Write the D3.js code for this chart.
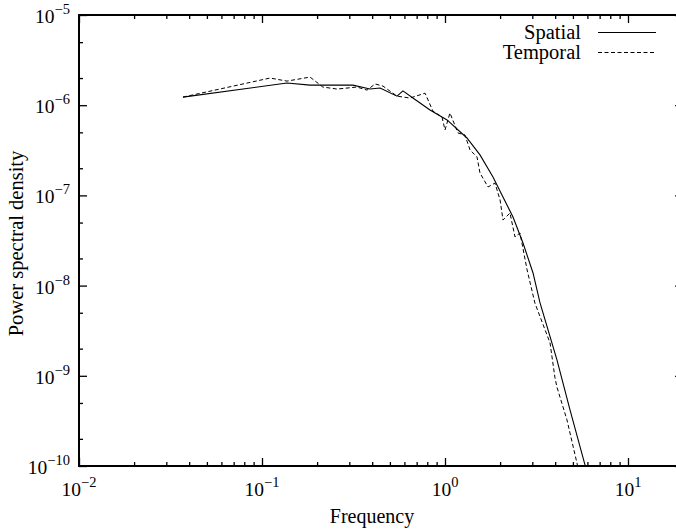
<!DOCTYPE html>
<html>
<head>
<meta charset="utf-8">
<script src="https://cdn.jsdelivr.net/npm/d3@7"></script>
<style>
  html, body { margin: 0; padding: 0; background: #fff; }
  svg { display: block; }
  text { font-family: "Liberation Serif", "Times New Roman", serif; fill: #000; }
</style>
</head>
<body>
<svg id="chart" width="676" height="530"></svg>
<script>
// ---- data ----
const spatialFreq = [0.037, 0.137, 0.183, 0.314, 0.389, 0.442, 0.547, 0.589, 0.668, 0.828, 1.026, 1.318, 1.553, 1.829, 2.074, 2.353, 2.668, 3.027, 3.306, 4.09, 4.82, 5.82, 6.04];
const spatialPSD  = [1.23e-6, 1.76e-6, 1.67e-6, 1.67e-6, 1.51e-6, 1.55e-6, 1.26e-6, 1.44e-6, 1.20e-6, 8.85e-7, 6.86e-7, 4.33e-7, 2.81e-7, 1.60e-7, 9.6e-8, 5.76e-8, 2.97e-8, 1.38e-8, 6.42e-9, 1.50e-9, 4.18e-10, 1.03e-10, 7.9e-11];

const temporalFreq = [0.037, 0.1106, 0.137, 0.183, 0.215, 0.257, 0.330, 0.375, 0.415, 0.458, 0.547, 0.644, 0.778, 0.859, 0.963, 1.0, 1.064, 1.178, 1.285, 1.37, 1.496, 1.553, 1.718, 1.876, 2.0, 2.075, 2.265, 2.413, 2.57, 2.81, 3.10, 3.75, 3.99, 4.09, 4.64, 5.26, 5.39];
const temporalPSD  = [1.23e-6, 2.00e-6, 1.85e-6, 2.05e-6, 1.59e-6, 1.51e-6, 1.59e-6, 1.47e-6, 1.72e-6, 1.63e-6, 1.26e-6, 1.20e-6, 1.36e-6, 8.6e-7, 7.4e-7, 5.31e-7, 8.2e-7, 4.92e-7, 4.68e-7, 3.19e-7, 2.67e-7, 1.77e-7, 1.24e-7, 1.37e-7, 8.9e-8, 5.33e-8, 6.38e-8, 3.46e-8, 3.83e-8, 1.49e-8, 6.4e-9, 2.31e-9, 9.5e-10, 7.5e-10, 3.24e-10, 1.08e-10, 8.5e-11];

const xMajorTicks = [0.01, 0.1, 1, 10];
const xMajorLabels = ["−2", "−1", "0", "1"];
const yMajorTicks = [1e-10, 1e-9, 1e-8, 1e-7, 1e-6, 1e-5];
const yMajorLabels = ["−10", "−9", "−8", "−7", "−6", "−5"];
const seriesNames = ["Spatial", "Temporal"];
const xTitle = "Frequency";
const yTitle = "Power spectral density";

// ---- layout ----
const svg = d3.select("#chart");
const padL = 79, padT = 15, padB = 466;
const decade = 183;
const xDomain = [0.01, 20];
const padR = padL + decade * Math.log10(xDomain[1] / xDomain[0]);

const x = d3.scaleLog().domain(xDomain).range([padL, padR]);
const y = d3.scaleLog().domain([1e-10, 1e-5]).range([padB, padT]);

// minor ticks
const xMinor = [];
for (let e = -2; e <= 1; e++) for (let m = 2; m <= 9; m++) { const v = m * Math.pow(10, e); if (v <= xDomain[1]) xMinor.push(v); }
const yMinor = [];
for (let e = -10; e < -5; e++) for (const m of [2, 5]) yMinor.push(m * Math.pow(10, e));

function drawAxis(axisGen, transform) {
  const g = svg.append("g").attr("transform", transform).call(axisGen);
  g.select(".domain").remove();
  g.selectAll("line").attr("stroke", "#000").attr("stroke-width", 1.3);
  g.selectAll("text").remove();
  return g;
}
drawAxis(d3.axisBottom(x).tickValues(xMajorTicks).tickSize(-8).tickFormat(""), `translate(0,${padB})`);
drawAxis(d3.axisBottom(x).tickValues(xMinor).tickSize(-4).tickFormat(""), `translate(0,${padB})`);
drawAxis(d3.axisTop(x).tickValues(xMajorTicks).tickSize(-8).tickFormat(""), `translate(0,${padT})`);
drawAxis(d3.axisTop(x).tickValues(xMinor).tickSize(-4).tickFormat(""), `translate(0,${padT})`);
drawAxis(d3.axisLeft(y).tickValues(yMajorTicks).tickSize(-8).tickFormat(""), `translate(${padL},0)`);
drawAxis(d3.axisLeft(y).tickValues(yMinor).tickSize(-4).tickFormat(""), `translate(${padL},0)`);
drawAxis(d3.axisRight(y).tickValues(yMajorTicks).tickSize(-8).tickFormat(""), `translate(${padR},0)`);
drawAxis(d3.axisRight(y).tickValues(yMinor).tickSize(-4).tickFormat(""), `translate(${padR},0)`);

// frame
svg.append("rect")
  .attr("x", padL).attr("y", padT)
  .attr("width", padR - padL).attr("height", padB - padT)
  .attr("fill", "none").attr("stroke", "#000").attr("stroke-width", 2);

// tick labels
const xl = svg.append("g");
xMajorTicks.forEach((v, i) => {
  const t = xl.append("text").attr("x", x(v)).attr("y", 496)
    .attr("text-anchor", "middle").attr("font-size", 19.5);
  t.append("tspan").text("10");
  t.append("tspan").attr("dy", -9).attr("font-size", 14.5).text(xMajorLabels[i]);
});
const yl = svg.append("g");
yMajorTicks.forEach((v, i) => {
  const t = yl.append("text").attr("x", 70).attr("y", y(v) + 8)
    .attr("text-anchor", "end").attr("font-size", 19.5);
  t.append("tspan").text("10");
  t.append("tspan").attr("dy", -9).attr("font-size", 14.5).text(yMajorLabels[i]);
});

// axis titles
svg.append("text").attr("x", 372).attr("y", 523).attr("text-anchor", "middle")
  .attr("font-size", 20).text(xTitle);
svg.append("text").attr("transform", `translate(23,${(padT + padB) / 2 + 3}) rotate(-90)`)
  .attr("text-anchor", "middle").attr("font-size", 20.5).text(yTitle);

// curves
svg.append("clipPath").attr("id", "plotclip").append("rect")
  .attr("x", padL).attr("y", padT).attr("width", padR - padL).attr("height", padB - padT);

const line = d3.line().x(d => x(d[0])).y(d => y(d[1]));
const spatial = spatialFreq.map((f, i) => [f, spatialPSD[i]]);
const temporal = temporalFreq.map((f, i) => [f, temporalPSD[i]]);

const plot = svg.append("g").attr("clip-path", "url(#plotclip)");
plot.append("path").datum(temporal).attr("d", line)
  .attr("fill", "none").attr("stroke", "#000").attr("stroke-width", 1).attr("stroke-dasharray", "4,2.5");
plot.append("path").datum(spatial).attr("d", line)
  .attr("fill", "none").attr("stroke", "#000").attr("stroke-width", 1.1);

// legend
const legend = svg.append("g");
const dashes = [null, "4,2.5"];
seriesNames.forEach((name, i) => {
  const by = 39 + i * 20;
  legend.append("text").attr("x", 581).attr("y", by).attr("text-anchor", "end")
    .attr("font-size", 20.5).text(name);
  legend.append("line").attr("x1", 598).attr("x2", 656).attr("y1", by - 6.5).attr("y2", by - 6.5)
    .attr("stroke", "#000").attr("stroke-width", 1.1)
    .attr("stroke-dasharray", dashes[i]);
});
</script>
</body>
</html>
